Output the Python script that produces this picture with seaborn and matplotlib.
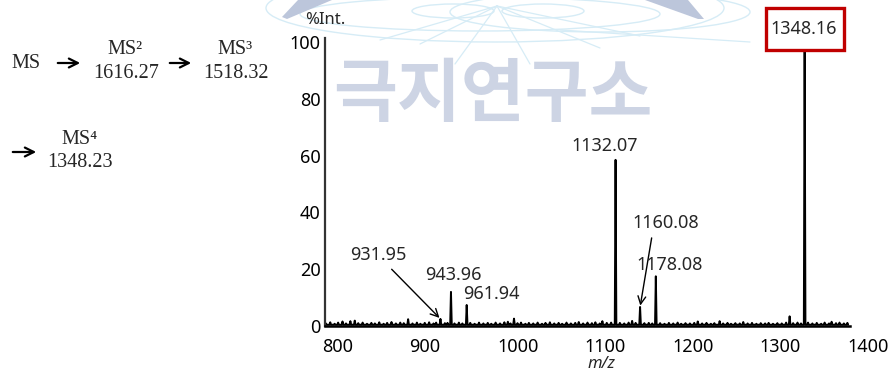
import matplotlib
matplotlib.use("Agg")
import matplotlib.pyplot as plt
from matplotlib.patches import Ellipse, Polygon, Rectangle, FancyArrowPatch
from matplotlib.transforms import ScaledTranslation
from matplotlib.ticker import MultipleLocator
import pandas as pd
import seaborn as sns

# Labelled fragment ions of the MS4 spectrum (m/z, relative intensity %)
peak_mz = [931.95, 943.96, 961.94, 1132.07, 1160.08, 1178.08, 1348.16]
peak_int = [2.5, 12.0, 7.4, 58.5, 6.7, 17.5, 100.0]
peak_labels = ["931.95", "943.96", "961.94", "1132.07", "1160.08", "1178.08", "1348.16"]

# Small unlabelled peaks
minor_mz = [834, 895, 1016, 1331]
minor_int = [1.9, 2.4, 2.6, 3.4]

# Baseline noise spikes
noise_mz = [801, 806, 811, 815, 820, 824, 829, 838, 843, 848, 853, 857, 862, 867, 871,
            876, 881, 886, 890, 900, 905, 909, 914, 919, 924, 927, 937, 940, 948, 953,
            957, 966, 971, 976, 981, 986, 990, 995, 1000, 1005, 1009, 1012, 1020, 1024,
            1029, 1033, 1038, 1043, 1048, 1052, 1057, 1062, 1067, 1071, 1076, 1081, 1086,
            1090, 1095, 1100, 1105, 1109, 1114, 1117, 1122, 1127, 1137, 1142, 1147, 1151,
            1155, 1165, 1170, 1174, 1183, 1188, 1193, 1198, 1203, 1207, 1212, 1217, 1222,
            1226, 1231, 1236, 1241, 1245, 1251, 1255, 1260, 1264, 1269, 1274, 1278, 1283,
            1288, 1293, 1298, 1303, 1307, 1312, 1317, 1322, 1327, 1335, 1340, 1344, 1352,
            1357, 1362, 1367, 1371, 1376, 1379, 1384, 1388, 1393, 1397]
noise_int = [0.9, 1.3, 0.8, 1.2, 1.6, 0.9, 1.7, 1.0, 1.2, 0.8, 1.1, 0.9, 1.3, 0.8, 1.1,
             1.4, 0.9, 1.2, 1.0, 0.9, 1.2, 0.8, 1.1, 1.3, 0.9, 1.2, 1.0, 1.1, 0.9, 1.2,
             0.9, 1.1, 0.8, 1.2, 0.9, 1.1, 0.8, 1.2, 0.9, 1.3, 1.5, 0.9, 1.0, 1.2,
             0.8, 1.1, 0.9, 1.2, 0.8, 1.1, 1.3, 0.9, 1.1, 0.8, 1.2, 0.9, 1.1,
             1.4, 0.9, 1.2, 1.0, 1.3, 0.9, 1.7, 1.1, 1.2, 1.1, 0.9, 1.2, 1.8,
             1.1, 1.0, 1.1, 0.9, 1.0, 0.8, 1.1, 0.9, 1.2, 0.8, 1.0, 0.9, 1.1,
             1.6, 0.9, 1.1, 0.8, 1.0, 1.7, 0.9, 1.1, 0.8, 1.0, 0.9, 1.4, 0.9,
             1.1, 0.8, 1.0, 0.9, 1.1, 0.8, 1.0, 0.9, 1.2, 1.0, 1.2, 0.9, 1.2,
             0.9, 1.1, 0.8, 1.2, 0.9, 1.5, 1.0, 1.2, 0.9, 1.1]

x_ticks = [800, 900, 1000, 1100, 1200, 1300, 1400]
y_ticks = [0, 20, 40, 60, 80, 100]

PEAK_BASE = 0.45    # baseline level at the foot of each centroid spike
PEAK_HALF = 0.9     # half width of a spike foot in m/z

# One profile trace: every peak and noise spike drawn as a narrow spike
pts = []
for m, h in zip(noise_mz + minor_mz + peak_mz, noise_int + minor_int + peak_int):
    pts += [(m - PEAK_HALF, PEAK_BASE), (m, h), (m + PEAK_HALF, PEAK_BASE)]
spec = pd.DataFrame(pts, columns=["mz", "intensity"]).sort_values("mz")

sns.set_style("white")
plt.rcParams["font.family"] = ["Noto Sans", "DejaVu Sans"]
plt.rcParams["axes.unicode_minus"] = False

W, H = 889, 373
fig = plt.figure(figsize=(W / 100, H / 100), dpi=100)

# ---- watermark layer (pixel coordinates) ----
wm = fig.add_axes([0, 0, 1, 1], zorder=-1)
wm.set_xlim(0, W)
wm.set_ylim(H, 0)
wm.axis("off")
globe = "#d6ecf6"
for cx, cy, w, h in [(495, 8, 458, 68), (480, 14, 360, 34), (453, 11, 82, 14),
                     (543, 11, 82, 14), (600, 12, 300, 40)]:
    wm.add_patch(Ellipse((cx, cy), w, h, fill=False, ec=globe, lw=1.0))
for x1, y1 in [(455, 64), (530, 64), (420, 44), (600, 48), (380, 40), (640, 36)]:
    wm.plot([497, x1], [6, y1], color=globe, lw=0.9)
wm.plot([560, 750], [30, 42], color=globe, lw=0.9)
wm.add_patch(Polygon([(298, 0), (332, 0), (287, 19), (282, 17)], closed=True,
                     fc="#bcc6db", ec="none"))
wm.add_patch(Polygon([(645, 0), (688, 0), (704, 19), (698, 19)], closed=True,
                     fc="#bcc6db", ec="none"))
wm.text(493, 96, "극지연구소", fontsize=50, fontweight="bold", color="#cdd4e4",
        family=["Noto Sans CJK KR", "DejaVu Sans"], ha="center", va="center")

# ---- spectrum ----
ax = fig.add_axes([325 / W, 1 - 326 / H, 525 / W, 288 / H], zorder=1)
ax.patch.set_alpha(0)
sns.lineplot(data=spec, x="mz", y="intensity", estimator=None, sort=False,
             color="black", lw=1.4, ax=ax)
ax.set_xlim(800, 1400)
ax.set_ylim(0, 101.4)
ax.set_xlabel("")
ax.set_ylabel("")
for s in ["top", "right"]:
    ax.spines[s].set_visible(False)
ax.spines["left"].set_color("#333333")
ax.spines["left"].set_linewidth(1.6)
ax.spines["bottom"].set_color("black")
ax.spines["bottom"].set_linewidth(1.8)

ax.set_xticks(x_ticks)
ax.set_xticklabels([str(t) for t in x_ticks])
ax.xaxis.set_minor_locator(MultipleLocator(10))
ax.tick_params(axis="x", which="major", direction="out", length=4, width=1,
               pad=5, labelsize=13, colors="black")
ax.tick_params(axis="x", which="minor", direction="out", length=3, width=1)
shift = ScaledTranslation(-3 / 100, 0, fig.dpi_scale_trans)
for lbl in ax.get_xticklabels():
    lbl.set_ha("left")
    lbl.set_transform(lbl.get_transform() + shift)

ax.set_yticks(y_ticks)
ax.set_yticklabels([str(t) for t in y_ticks])
ax.tick_params(axis="y", length=0, pad=3, labelsize=13, colors="black")

fig.text(305 / W, 1 - 20 / H, "%Int.", fontsize=12, ha="left", va="center")
fig.text(601 / W, 1 - 363.5 / H, "m/z", fontsize=12, style="italic",
         ha="center", va="center")

# ---- peak annotations ----
lab = dict(zip(peak_labels, zip(peak_mz, peak_int)))
arrow = dict(arrowstyle="->", lw=1.0, color="black", shrinkA=2, shrinkB=1,
             mutation_scale=14)
ax.annotate("931.95", xy=lab["931.95"], xytext=(860.6, 25.0),
            ha="center", va="center", fontsize=13,
            arrowprops=dict(arrow, relpos=(0.65, 0.0)))
ax.text(946.3, 18.0, "943.96", ha="center", va="center", fontsize=13)
ax.text(989.7, 11.3, "961.94", ha="center", va="center", fontsize=13)
ax.text(1120.0, 63.4, "1132.07", ha="center", va="center", fontsize=13)
ax.annotate("1160.08", xy=lab["1160.08"], xytext=(1189.7, 36.3),
            ha="center", va="center", fontsize=13,
            arrowprops=dict(arrow, relpos=(0.3, 0.0)))
ax.text(1193.9, 21.5, "1178.08", ha="center", va="center", fontsize=13)

# base peak label in a red frame above the plotting area
bx, by = lab["1348.16"]
ax.add_patch(Rectangle((bx - 44.5, 97.2), 89, 14.8, fc="white", ec="#c00000",
                       lw=2.4, clip_on=False, zorder=3))
ax.text(bx - 0.8, 104.6, "1348.16", ha="center", va="center", fontsize=13,
        clip_on=False, zorder=4)

# ---- MSn pathway ----
serif = ["Liberation Serif", "DejaVu Serif"]


def ftxt(x, y, s):
    fig.text(x / W, 1 - y / H, s, family=serif, fontsize=14.5,
             ha="center", va="center")


def farrow(x0, x1, y):
    fig.add_artist(FancyArrowPatch(
        (x0 / W, 1 - y / H), (x1 / W, 1 - y / H), transform=fig.transFigure,
        arrowstyle="->", mutation_scale=16, lw=1.6, color="black"))


ftxt(26, 64, "MS")
farrow(55, 83, 63)
ftxt(125, 50, "MS²")
ftxt(126, 73, "1616.27")
farrow(167, 194, 63)
ftxt(235, 50, "MS³")
ftxt(236, 73, "1518.32")
farrow(10, 39, 152)
ftxt(79, 140, "MS⁴")
ftxt(80, 162, "1348.23")

fig.savefig("out.png", dpi=100)
